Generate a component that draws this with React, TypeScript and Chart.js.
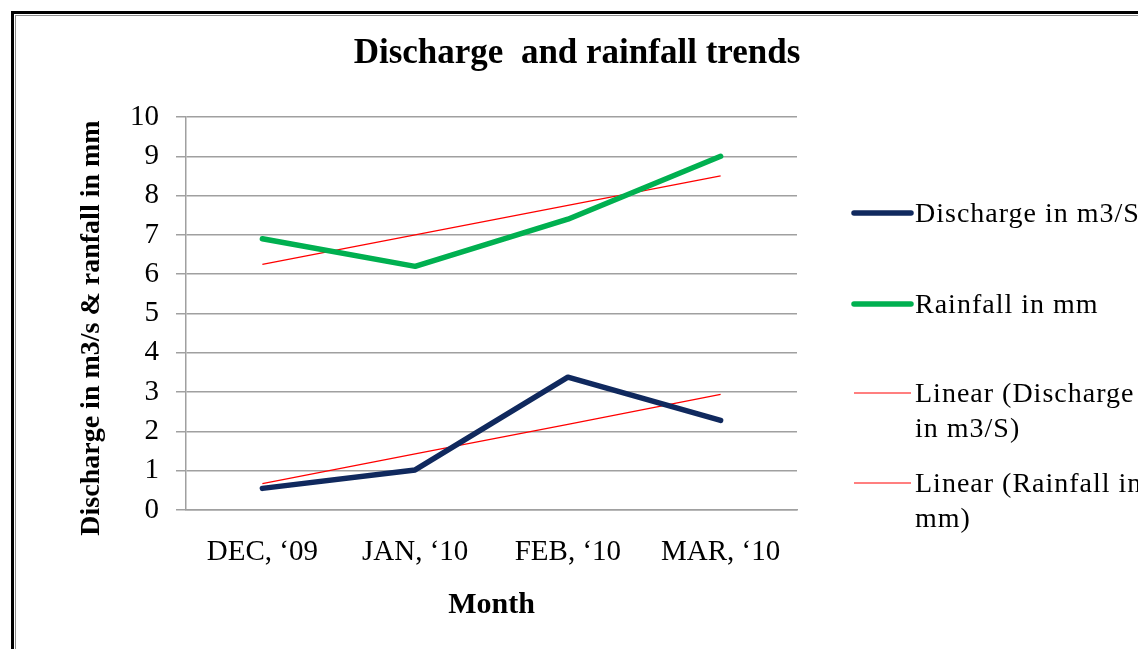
import React, { useEffect, useRef } from "react";
import { Chart, registerables } from "chart.js";

Chart.register(...registerables);

const TITLE = "Discharge  and rainfall trends";
const X_TITLE = "Month";
const Y_TITLE = "Discharge in m3/s & ranfall in mm";
const CATEGORIES = ["DEC, \u201809", "JAN, \u201810", "FEB, \u201810", "MAR, \u201810"];
const DISCHARGE = [0.55, 1.02, 3.38, 2.28];
const RAINFALL = [6.9, 6.2, 7.4, 9.0];
const TREND_DISCHARGE = [0.67, 1.43, 2.18, 2.94];
const TREND_RAINFALL = [6.25, 7.0, 7.75, 8.5];
const SERIES_LABELS = [
  "Discharge in m3/S",
  "Rainfall in mm",
  "Linear (Discharge in m3/S)",
  "Linear (Rainfall in mm)",
];
const LEGEND_TEXT = [
  ["Discharge in m3/S"],
  ["Rainfall in mm"],
  ["Linear (Discharge", "in m3/S)"],
  ["Linear (Rainfall in", "mm)"],
];
const Y_MIN = 0;
const Y_MAX = 10;
const Y_STEP = 1;

const SERIF = "'Liberation Serif', 'Times New Roman', serif";

const W = 1138;
const H = 649;

const decorPlugin = {
  id: "decor",
  beforeDraw(chart: any) {
    const ctx = chart.ctx;
    ctx.save();
    ctx.fillStyle = "#ffffff";
    ctx.fillRect(0, 0, W, H);
    // frame
    ctx.strokeStyle = "#000000";
    ctx.lineWidth = 3;
    ctx.strokeRect(12.5, 12.5, 2000, 2000);
    ctx.strokeStyle = "#8c8c8c";
    ctx.lineWidth = 1;
    ctx.strokeRect(15.5, 15.5, 2000, 2000);
    ctx.restore();
  },
  afterDraw(chart: any) {
    const ctx = chart.ctx;
    ctx.save();
    // title
    ctx.fillStyle = "#000000";
    ctx.font = `bold 35px ${SERIF}`;
    ctx.textAlign = "center";
    ctx.textBaseline = "middle";
    ctx.fillText(TITLE, 577, 54);

    // y title
    ctx.save();
    ctx.translate(92, 328);
    ctx.rotate(-Math.PI / 2);
    ctx.font = `bold 28px ${SERIF}`;
    ctx.textAlign = "center";
    ctx.textBaseline = "middle";
    ctx.fillText(Y_TITLE, 0, 0);
    ctx.restore();

    // legend
    const rowY = [213, 304, 393, 483];
    const lineH = 35;
    chart.data.datasets.forEach((ds: any, i: number) => {
      const y = rowY[i];
      ctx.strokeStyle = ds.borderColor;
      ctx.lineWidth = ds.borderWidth;
      ctx.lineCap = ds.borderWidth > 2 ? "round" : "butt";
      ctx.beginPath();
      ctx.moveTo(854, y);
      ctx.lineTo(911, y);
      ctx.stroke();
      ctx.fillStyle = "#000000";
      ctx.font = `28px ${SERIF}`;
      try {
        (ctx as any).letterSpacing = "1px";
      } catch (e) {}
      ctx.textAlign = "left";
      ctx.textBaseline = "middle";
      LEGEND_TEXT[i].forEach((t, j) => {
        ctx.fillText(t, 915, y + 2 + j * lineH);
      });
      try {
        (ctx as any).letterSpacing = "0px";
      } catch (e) {}
    });
    ctx.restore();
  },
};

export default function App() {
  const ref = useRef<HTMLCanvasElement | null>(null);

  useEffect(() => {
    if (!ref.current) return;
    const chart = new Chart(ref.current, {
      type: "line",
      data: {
        labels: CATEGORIES,
        datasets: [
          {
            label: SERIES_LABELS[0],
            data: DISCHARGE,
            borderColor: "#10295e",
            backgroundColor: "#10295e",
            borderWidth: 5.5,
            pointRadius: 0,
            borderCapStyle: "round",
            borderJoinStyle: "round",
            tension: 0,
          },
          {
            label: SERIES_LABELS[1],
            data: RAINFALL,
            borderColor: "#00b050",
            backgroundColor: "#00b050",
            borderWidth: 5.5,
            pointRadius: 0,
            borderCapStyle: "round",
            borderJoinStyle: "round",
            tension: 0,
          },
          {
            label: SERIES_LABELS[2],
            data: TREND_DISCHARGE,
            borderColor: "#ff0000",
            backgroundColor: "#ff0000",
            borderWidth: 1.2,
            pointRadius: 0,
            tension: 0,
          },
          {
            label: SERIES_LABELS[3],
            data: TREND_RAINFALL,
            borderColor: "#ff0000",
            backgroundColor: "#ff0000",
            borderWidth: 1.2,
            pointRadius: 0,
            tension: 0,
          },
        ],
      },
      options: {
        responsive: false,
        animation: false,
        devicePixelRatio: 1,
        layout: { padding: { top: 117, right: 341, left: 0, bottom: 0 } },
        plugins: {
          legend: { display: false },
          title: { display: false },
          tooltip: { enabled: false },
        },
        scales: {
          x: {
            type: "category",
            offset: true,
            grid: { display: false, drawTicks: false },
            border: { display: true, color: "#a0a0a0", width: 1.5 },
            ticks: {
              color: "#000000",
              padding: 25,
              maxRotation: 0,
              font: { family: SERIF, size: 29 },
            },
            title: {
              display: true,
              text: X_TITLE,
              color: "#000000",
              font: { family: SERIF, size: 30, weight: "bold" },
              padding: { top: 0, bottom: 26 },
            },
            afterFit: (s: any) => {
              s.height = 139;
            },
          },
          y: {
            min: Y_MIN,
            max: Y_MAX,
            grid: {
              color: "#a0a0a0",
              lineWidth: 1.5,
              drawTicks: true,
              tickLength: 10,
            },
            border: { display: true, color: "#a0a0a0", width: 1.5 },
            ticks: {
              stepSize: Y_STEP,
              color: "#000000",
              padding: 17,
              font: { family: SERIF, size: 29 },
            },
            afterFit: (s: any) => {
              s.width = 186;
            },
          },
        },
      },
      plugins: [decorPlugin],
    });
    return () => chart.destroy();
  }, []);

  return (
    <div style={{ position: "fixed", left: 0, top: 0, width: W, height: H, background: "#fff" }}>
      <canvas ref={ref} width={W} height={H} style={{ display: "block" }} />
    </div>
  );
}
